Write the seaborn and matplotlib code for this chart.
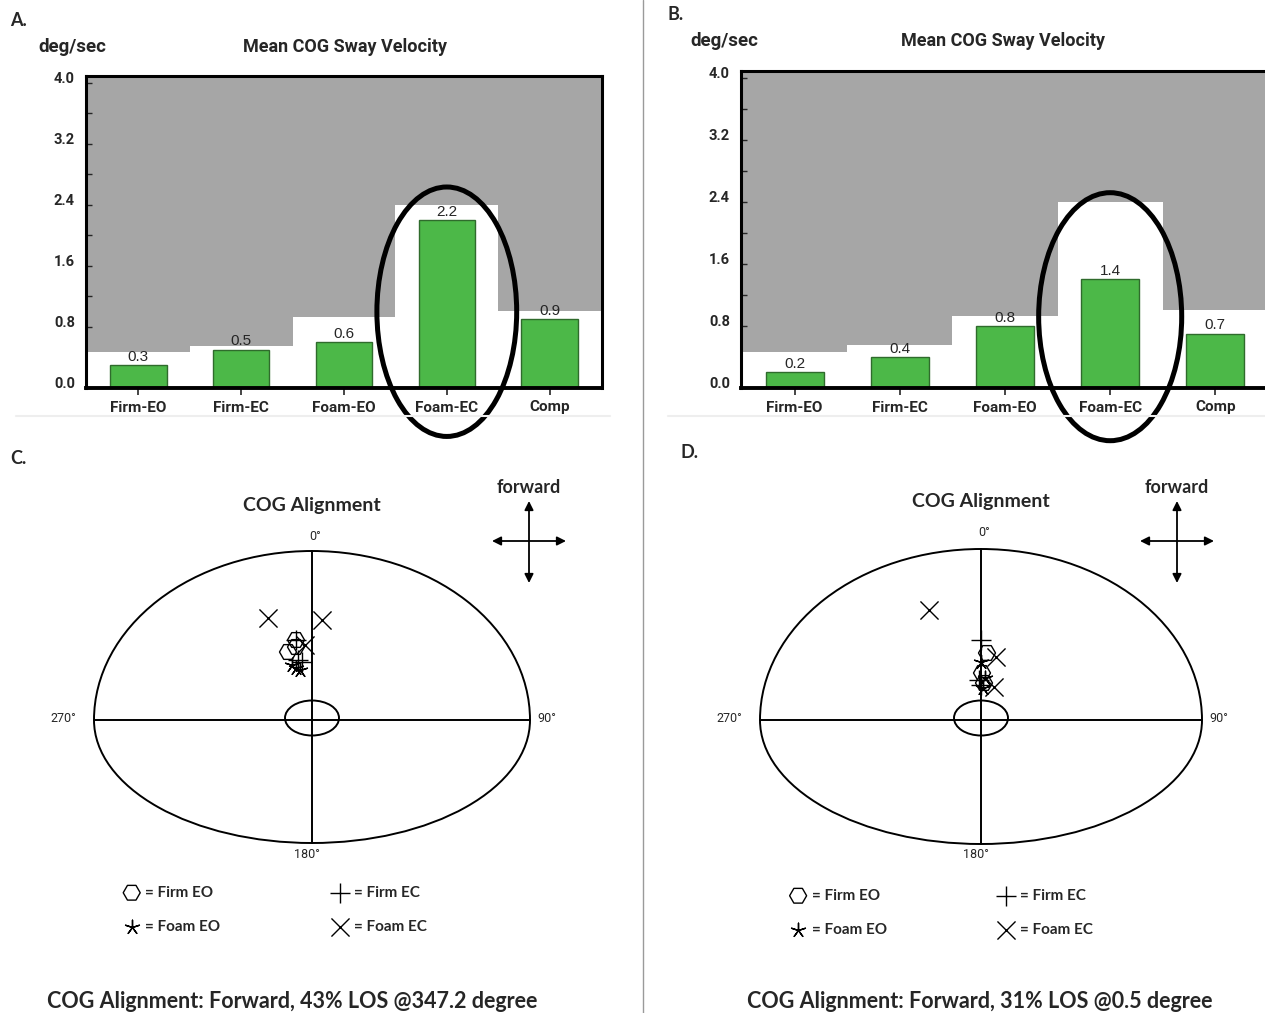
import numpy as np
import pandas as pd
import seaborn as sns
import matplotlib.pyplot as plt
from matplotlib.patches import Ellipse, Arc
from matplotlib.lines import Line2D
from matplotlib.ticker import MultipleLocator

# --- sway velocity panels (A, B) ---
conditions = ['Firm-EO', 'Firm-EC', 'Foam-EO', 'Foam-EC', 'Comp']
sway_a = [0.3, 0.5, 0.6, 2.2, 0.9]
sway_b = [0.2, 0.4, 0.8, 1.4, 0.7]
normal_limit = [0.47, 0.55, 0.93, 2.40, 1.01]
y_ticks = [0.0, 0.8, 1.6, 2.4, 3.2, 4.0]

# --- COG alignment panels (C, D): offsets from centre, forward = up ---
trial_order = ['Firm EO', 'Firm EC', 'Foam EO', 'Foam EC']
c_cond = ['Firm EO'] * 3 + ['Firm EC'] * 3 + ['Foam EO'] * 3 + ['Foam EC'] * 3
c_x = [-16, -16, -24, -16, -14, -10, -20, -12, -16, -44, 10, -7]
c_y = [80, 73, 68, 80, 60, 58, 55, 50, 52, 102, 100, 75]
d_cond = ['Firm EO'] * 3 + ['Firm EC'] * 3 + ['Foam EO'] * 3 + ['Foam EC'] * 3
d_x = [6, 1, 3, 0, -2, 0, 0, 2, 4, -52, 15, 13]
d_y = [67, 47, 37, 80, 40, 35, 58, 32, 42, 110, 63, 33]

summary_c = 'COG Alignment: Forward, 43% LOS @347.2 degree'
summary_d = 'COG Alignment: Forward, 31% LOS @0.5 degree'

W, H = 1265, 1013
BAR_FONT = ['Roboto', 'DejaVu Sans']
CAL_FONT = ['Lato', 'DejaVu Sans']
GREEN = '#4cb848'
GRAY = '#a6a6a6'

sns.set_style('white')
plt.rcParams['font.family'] = BAR_FONT

fig = plt.figure(figsize=(W / 100, H / 100), dpi=100)


def px_box(left, top, right, bottom):
    return [left / W, 1 - bottom / H, (right - left) / W, (bottom - top) / H]


def draw_bars(box, values, ring_y, ring_h):
    ax = fig.add_axes(box)
    ax.set_facecolor(GRAY)
    sns.barplot(x=conditions, y=normal_limit, width=1.0, color='white',
                saturation=1, linewidth=0, ax=ax)
    sns.barplot(x=conditions, y=values, width=0.55, color=GREEN,
                saturation=1, edgecolor='#2f6b2c', linewidth=1, ax=ax)
    ax.bar_label(ax.containers[1], fmt='%.1f', padding=1, fontsize=11,
                 family=['Liberation Sans', 'DejaVu Sans'])
    ax.set_xlim(-0.51, 4.51)
    ax.set_ylim(0, 4.09)
    ax.set_yticks(y_ticks)
    # the device prints its scale labels a little above the ticks
    ax.set_yticklabels([f'{t:.1f}' for t in y_ticks], fontweight='bold',
                       fontsize=10.5, va='baseline')
    ax.yaxis.set_minor_locator(MultipleLocator(0.4))
    ax.tick_params(axis='y', which='both', direction='in', length=4,
                   width=1, left=True, pad=8)
    ax.tick_params(axis='x', direction='out', length=5, width=1.2,
                   bottom=True, pad=4, labelsize=11)
    for lab in ax.get_xticklabels():
        lab.set_fontweight('bold')
    for side, sp in ax.spines.items():
        sp.set_visible(True)
        sp.set_color('black')
        sp.set_linewidth(2.2)
    ax.spines['bottom'].set_linewidth(2.8)
    ax.set_xlabel('')
    ax.set_ylabel('')
    ax.add_patch(Ellipse((3, ring_y), 1.36, ring_h, fill=False, lw=3.6,
                         color='black', clip_on=False, zorder=6))
    return ax


draw_bars(px_box(86, 76, 602, 388), sway_a, 1.0, 3.27)
draw_bars(px_box(741, 71, 1269, 388), sway_b, 0.92, 3.2)

fig.text(38 / W, 1 - 47 / H, 'deg/sec', fontsize=13.5, fontweight='bold',
         va='center', ha='left')
fig.text(345 / W, 1 - 47 / H, 'Mean COG Sway Velocity', fontsize=13,
         fontweight='bold', va='center', ha='center')
fig.text(690 / W, 1 - 41 / H, 'deg/sec', fontsize=13.5, fontweight='bold',
         va='center', ha='left')
fig.text(1003 / W, 1 - 41 / H, 'Mean COG Sway Velocity', fontsize=13,
         fontweight='bold', va='center', ha='center')

for letter, x, y in [('A.', 10, 20), ('B.', 668, 14), ('C.', 10, 458),
                     ('D.', 680, 452)]:
    fig.text(x / W, 1 - y / H, letter, fontsize=13, fontweight='bold',
             family=CAL_FONT, va='center', ha='left')

# faint rule under the bar panels and the centre divider
fig.add_artist(Line2D([16 / W, 610 / W], [1 - 416 / H] * 2, color='#eeeeee',
                      lw=1.5))
fig.add_artist(Line2D([668 / W, 1.0], [1 - 416 / H] * 2, color='#eeeeee',
                      lw=1.5))
fig.add_artist(Line2D([643 / W] * 2, [0, 1], color='#9a9a9a', lw=1))

marker_kw = {
    'Firm EO': dict(marker='H', s=150, facecolor='none', edgecolor='black',
                    color='black', linewidth=1.0),
    'Firm EC': dict(marker='+', s=190, color='black', edgecolor='black',
                    linewidth=1.0),
    'Foam EO': dict(marker=(5, 2, 0), s=110, color='black',
                    edgecolor='black', linewidth=1.0),
    'Foam EC': dict(marker='x', s=170, color='black', edgecolor='black',
                    linewidth=1.0),
}


def draw_cog(box, xlim, cond, xs, ys, a, top, bot, cross, title_y, zero_y,
             legend_anchor, summary, summary_x):
    ax = fig.add_axes(box)
    ax.set_xlim(*xlim)
    ax.set_ylim(-250, 250)
    ax.axis('off')
    lw = 1.4
    ax.add_patch(Arc((0, 0), 2 * a, 2 * top, theta1=0, theta2=180, lw=lw,
                     edgecolor='black'))
    ax.add_patch(Arc((0, 0), 2 * a, 2 * bot, theta1=180, theta2=360, lw=lw,
                     edgecolor='black'))
    ax.plot([0, 0], [-bot, top], color='black', lw=lw)
    ax.plot([-a, a], [0, 0], color='black', lw=lw)
    ax.add_patch(Ellipse((0, 2), 54, 35, fill=False, lw=lw,
                         edgecolor='black'))

    deg_kw = dict(fontsize=9, ha='center', va='center')
    ax.text(3, zero_y, '0°', **deg_kw)
    ax.text(-5, -bot - 11, '180°', **deg_kw)
    ax.text(-a - 31, 2, '270°', **deg_kw)
    ax.text(a + 17, 2, '90°', **deg_kw)

    ax.text(0, title_y, 'COG Alignment', fontsize=14, fontweight='bold',
            family=CAL_FONT, ha='center', va='center')
    cx, cy = cross
    ax.text(cx, cy + 53, 'forward', fontsize=13, fontweight='bold',
            family=CAL_FONT, ha='center', va='center')
    arr = dict(arrowstyle='<|-|>', color='black', lw=1.3, mutation_scale=13,
               shrinkA=0, shrinkB=0)
    ax.annotate('', xy=(cx, cy + 40), xytext=(cx, cy - 42), arrowprops=arr)
    ax.annotate('', xy=(cx - 37, cy), xytext=(cx + 37, cy), arrowprops=arr)

    df = pd.DataFrame({'cond': cond, 'x': xs, 'y': ys})
    for name in trial_order:
        sub = df[df['cond'] == name]
        sns.scatterplot(data=sub, x='x', y='y', ax=ax, label='= ' + name,
                        zorder=4, **marker_kw[name])
    handles, labels = ax.get_legend_handles_labels()
    order = [0, 2, 1, 3]
    ax.legend([handles[i] for i in order], [labels[i] for i in order],
              ncol=2, loc='upper left', bbox_to_anchor=legend_anchor,
              frameon=False, handlelength=1.2, handletextpad=0.3,
              columnspacing=7.2, labelspacing=1.35,
              prop=dict(family=CAL_FONT, weight='bold', size=11))
    fig.text(summary_x / W, 1 - 1001 / H, summary, fontsize=15.5,
             fontweight='bold', family=CAL_FONT, ha='center', va='center')
    return ax


draw_cog(px_box(0, 470, 640, 970), (-312, 328), c_cond, c_x, c_y,
         218, 169, 123, (217, 179), 214, 184, (0.17, 0.196), summary_c, 292)
draw_cog(px_box(645, 470, 1265, 970), (-336, 284), d_cond, d_x, d_y,
         221, 171, 124, (196, 179), 218, 188, (0.21, 0.19), summary_d, 980)

fig.savefig('out.png', dpi=100)
